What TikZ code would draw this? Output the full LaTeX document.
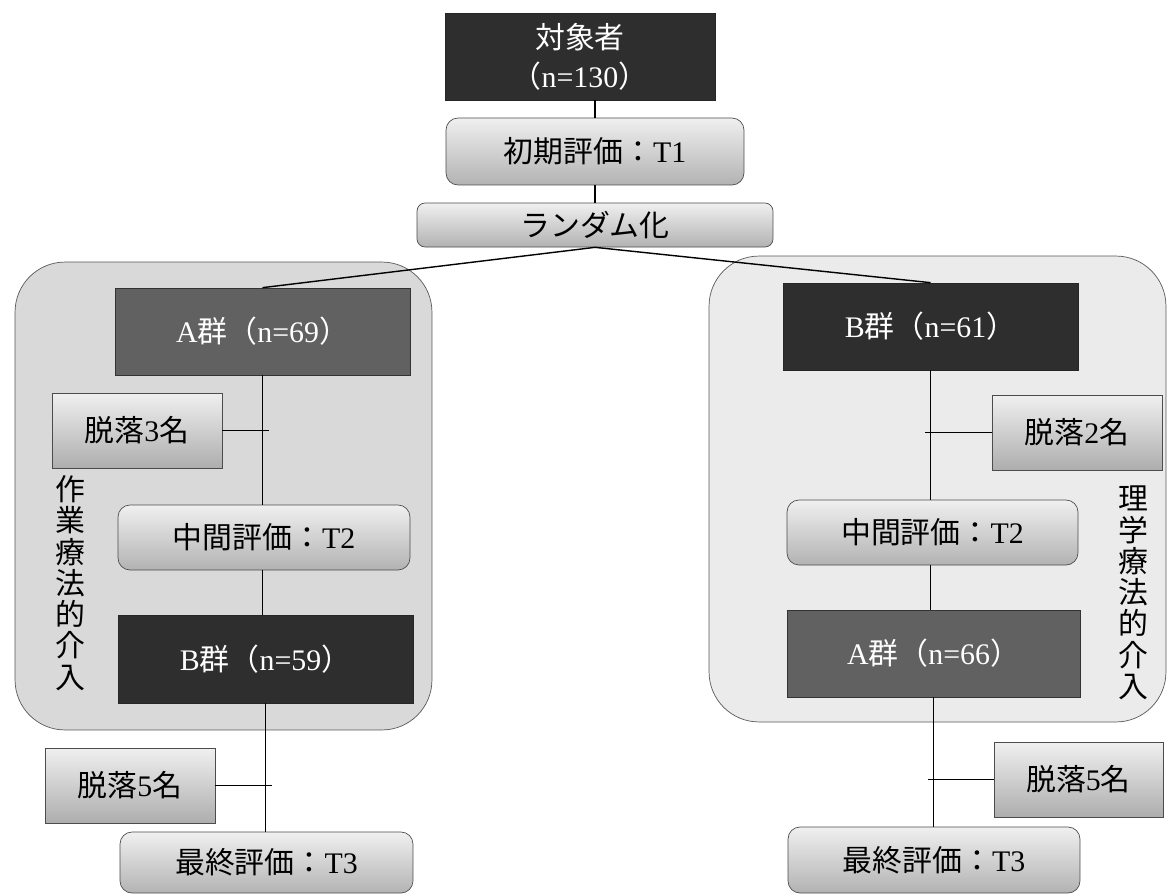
\documentclass[tikz,border=0pt]{standalone}
\usepackage{fontspec}
\setmainfont{Liberation Serif}
\newfontfamily\cjk{Noto Sans CJK JP}
\newcommand{\J}[1]{{\cjk #1}}
\begin{document}
\begin{tikzpicture}[x=0.02cm,y=-0.02cm,
  font=\fontsize{17}{20}\selectfont,
  darkbox/.style={rectangle, draw=black!85, fill=black!82, text=white, inner sep=0pt},
  midbox/.style={rectangle, draw=black!80, fill=black!62, text=white, inner sep=0pt},
  evalbox/.style={rectangle, draw=black!70, rounded corners=0.24cm, top color=black!6, bottom color=black!30, inner sep=0pt},
  dropbox/.style={rectangle, draw=black!70, top color=black!6, bottom color=black!32, inner sep=0pt},
  grouparea/.style={draw=black!65, rounded corners=1cm},
  vtext/.style={align=center, inner sep=0pt, font=\fontsize{17}{17.8}\selectfont},
  link/.style={draw=black, line width=0.8pt}]
\useasboundingbox (0,0) rectangle (1170,896);
\fill[white] (0,0) rectangle (1170,896);

% group areas
\node[grouparea, fill=black!15, minimum width=8.34cm, minimum height=9.36cm] (gL) at (223.5,496) {};
\node[grouparea, fill=black!8, minimum width=9.14cm, minimum height=9.32cm] (gR) at (937.5,489) {};

% top
\node[darkbox, minimum width=5.4cm, minimum height=1.74cm, align=center, font=\fontsize{17}{22}\selectfont] (obj) at (580,56.5) {\J{対象者}\\\J{（}n=130\J{）}};
\node[evalbox, minimum width=5.96cm, minimum height=1.34cm] (t1) at (595,151.5) {\J{初期評価：}T1};
\node[evalbox, rounded corners=0.16cm, minimum width=7.12cm, minimum height=0.88cm] (rnd) at (595,225) {\J{ランダム化}};

% left branch
\node[midbox, minimum width=5.9cm, minimum height=1.74cm] (aL) at (262.5,331.5) {A\J{群（}n=69\J{）}};
\node[dropbox, minimum width=3.4cm, minimum height=1.5cm] (dL1) at (137,430.5) {\J{脱落}3\J{名}};
\node[evalbox, minimum width=5.84cm, minimum height=1.3cm] (t2L) at (264,537.5) {\J{中間評価：}T2};
\node[darkbox, minimum width=5.9cm, minimum height=1.76cm] (bL) at (265.5,659) {B\J{群（}n=59\J{）}};
\node[dropbox, minimum width=3.4cm, minimum height=1.5cm] (dL2) at (130,785.5) {\J{脱落}5\J{名}};
\node[evalbox, minimum width=5.86cm, minimum height=1.22cm] (t3L) at (266.5,862.5) {\J{最終評価：}T3};

% right branch
\node[darkbox, minimum width=5.9cm, minimum height=1.74cm] (bR) at (930.5,326.5) {B\J{群（}n=61\J{）}};
\node[dropbox, minimum width=3.4cm, minimum height=1.5cm] (dR1) at (1077,432.5) {\J{脱落}2\J{名}};
\node[evalbox, minimum width=5.82cm, minimum height=1.3cm] (t2R) at (932.5,532.5) {\J{中間評価：}T2};
\node[midbox, minimum width=5.86cm, minimum height=1.74cm] (aR) at (933.5,653.5) {A\J{群（}n=66\J{）}};
\node[dropbox, minimum width=3.38cm, minimum height=1.5cm] (dR2) at (1078.5,779.5) {\J{脱落}5\J{名}};
\node[evalbox, minimum width=5.84cm, minimum height=1.32cm] (t3R) at (934,860) {\J{最終評価：}T3};

% vertical labels
\node[vtext] (vL) at (70,583) {\J{作}\\\J{業}\\\J{療}\\\J{法}\\\J{的}\\\J{介}\\\J{入}};
\node[vtext] (vR) at (1133,593) {\J{理}\\\J{学}\\\J{療}\\\J{法}\\\J{的}\\\J{介}\\\J{入}};

% connectors
\draw[link] (t1.north) -- (t1.north |- obj.south);
\draw[link] (t1.south) -- (t1.south |- rnd.north);
\draw[link] (rnd.south) -- (aL.north);
\draw[link] (rnd.south) -- (bR.north);

\coordinate (sL) at (aL.south);
\draw[link] (sL) -- (sL |- t2L.north);
\draw[link] (t2L.south -| sL) -- (sL |- bL.north);
\coordinate (sL2) at (bL.south);
\draw[link] (sL2) -- (sL2 |- t3L.north);
\draw[link] (dL1.east) -- ([xshift=0.12cm]dL1.east -| sL);
\draw[link] (dL2.east) -- ([xshift=0.12cm]dL2.east -| sL2);

\coordinate (sR) at (bR.south);
\draw[link] (sR) -- (sR |- t2R.north);
\draw[link] (t2R.south -| sR) -- (sR |- aR.north);
\coordinate (sR2) at (aR.south);
\draw[link] (sR2) -- (sR2 |- t3R.north);
\draw[link] (dR1.west) -- ([xshift=-0.12cm]dR1.west -| sR);
\draw[link] (dR2.west) -- ([xshift=-0.12cm]dR2.west -| sR2);
\end{tikzpicture}
\end{document}
